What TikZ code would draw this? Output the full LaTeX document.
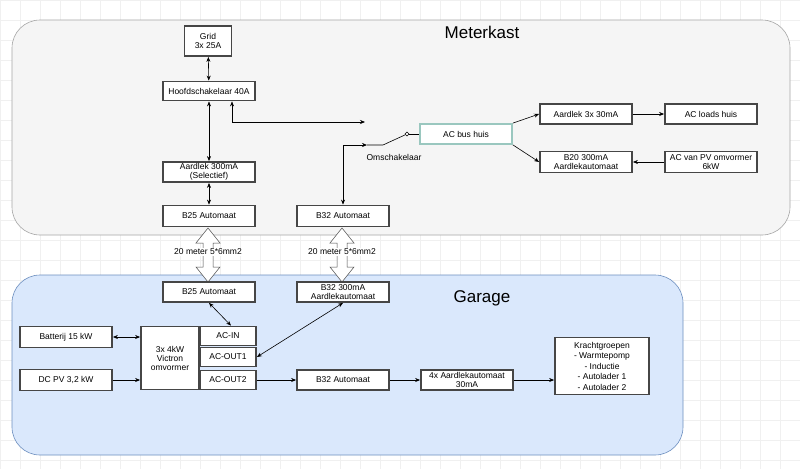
\documentclass[tikz,border=0pt]{standalone}
\usepackage{fontspec}
\setmainfont{Liberation Sans}
\usetikzlibrary{arrows.meta}
\definecolor{panelgray}{HTML}{F5F5F5}
\definecolor{panelblue}{HTML}{DAE8FC}
\definecolor{edgeblue}{HTML}{6C8EBF}
\definecolor{busteal}{HTML}{9AC7BF}
\tikzset{
        % boxes with the thick grey rim
        box/.style={draw=gray!55!black, line width=1.8pt,
                    fill=white, align=center, inner sep=1pt, font=\fontsize{8.5}{9}\selectfont},
        % panels
        panel/.style={rounded corners=28pt, line width=0.6pt},
        wire/.style={-{Stealth[length=5pt,width=4pt]}, line width=0.6pt},
        biwire/.style={{Stealth[length=5pt,width=4pt]}-{Stealth[length=5pt,width=4pt]}, line width=0.6pt},
        fat/.style={draw=black!70, fill=white, line width=0.5pt},
        lbl/.style={font=\fontsize{8.5}{9}\selectfont, inner sep=1pt}
}
\begin{document}
\begin{tikzpicture}[x=1pt, y=-1pt]
    \useasboundingbox (0,0) rectangle (800,469);
    \fill[white] (0,0) rectangle (800,469);
    \draw[gray!12, step=20pt] (0,0) grid (800,469);
    % panels
    \draw[panel, fill=panelgray, draw=gray!70] (12,20) rectangle (790,235);
    \draw[panel, fill=panelblue, draw=edgeblue] (12,275) rectangle (683,455);
    \node[font=\fontsize{17}{17}\selectfont] (meterkast) at (482,32) {Meterkast};
    \node[font=\fontsize{17}{17}\selectfont] (garage) at (482,298) {Garage};

    % fat cable arrows
    \foreach \cx in {208,342} {
        \draw[fat] (\cx,228) -- (\cx+12,243) -- (\cx+5,243) -- (\cx+5,267) -- (\cx+12,267)
            -- (\cx,282) -- (\cx-12,267) -- (\cx-5,267) -- (\cx-5,243) -- (\cx-12,243) -- cycle;
        \node[lbl, fill=white] at (\cx,252) {20 meter 5*6mm2};
    }

    % Meterkast
    \node[box, minimum width=47pt, minimum height=30pt] (grid) at (208,41) {Grid\\3x 25A};
    \node[box, minimum width=92pt, minimum height=19pt] (hoofd) at (209,91) {Hoofdschakelaar 40A};
    \node[box, minimum width=92pt, minimum height=20pt] (aardlek) at (209,172) {Aardlek 300mA\\(Selectief)};
    \node[box, minimum width=92pt, minimum height=21pt] (b25top) at (209,216) {B25 Automaat};
    \node[box, minimum width=92pt, minimum height=21pt] (b32top) at (343,216) {B32 Automaat};
    \node[box, draw=busteal, minimum width=92pt, minimum height=20pt] (bus) at (466,134) {AC bus huis};
    \node[box, minimum width=92pt, minimum height=20pt] (aard30) at (586,114) {Aardlek 3x 30mA};
    \node[box, minimum width=92pt, minimum height=20pt] (loads) at (711,114) {AC loads huis};
    \node[box, minimum width=92pt, minimum height=21pt] (b20) at (586,162) {B20 300mA\\Aardlekautomaat};
    \node[box, minimum width=92pt, minimum height=21pt] (pvomv) at (711,162) {AC van PV omvormer\\6kW};

    % omschakelaar
    \coordinate (swa) at (365,122);
    \coordinate (swb) at (367,145);
    \coordinate (swp) at (383,145);
    \node[circle, draw, fill=white, inner sep=1.4pt] (swc) at (407,134) {};
    \node[lbl] (oms) at (394,157) {Omschakelaar};

    \draw[biwire] (grid) -- (hoofd);
    \draw[biwire] (hoofd) -- (aardlek);
    \draw[biwire] (aardlek) -- (b25top);
    \draw[biwire] ([xshift=23pt]hoofd.south) |- (swa);
    \draw[biwire] (b32top.north) |- (swb);
    \draw[line width=0.6pt] (swb) -- (swp) -- (swc);
    \draw[line width=0.6pt] (swc) -- (bus);
    \draw[wire] (bus.north east) -- (aard30.west);
    \draw[wire] (bus.south east) -- (b20.west);
    \draw[wire] (aard30) -- (loads);
    \draw[wire] (pvomv) -- (b20);

    % Garage
    \node[box, minimum width=92pt, minimum height=20pt] (b25) at (209,292) {B25 Automaat};
    \node[box, minimum width=92pt, minimum height=20pt] (b32aard) at (343,292) {B32 300mA\\Aardlekautomaat};
    \node[box, minimum width=92pt, minimum height=21pt] (batt) at (66,337) {Batterij 15 kW};
    \node[box, minimum width=92pt, minimum height=21pt] (dcpv) at (66,380) {DC PV 3,2 kW};
    \node[box, minimum width=58pt, minimum height=63pt] (victron) at (170,358) {3x 4kW\\Victron\\omvormer};
    \node[box, minimum width=56pt, minimum height=19pt] (acin) at (228,336) {AC-IN};
    \node[box, minimum width=56pt, minimum height=19pt] (acout1) at (228,357) {AC-OUT1};
    \node[box, minimum width=56pt, minimum height=19pt] (acout2) at (228,380) {AC-OUT2};
    \node[box, minimum width=92pt, minimum height=20pt] (b32) at (343,380) {B32 Automaat};
    \node[box, minimum width=92pt, minimum height=20pt] (aard4) at (467,380) {4x Aardlekautomaat\\30mA};
    \node[box, minimum width=94pt, minimum height=57pt, font=\fontsize{8.5}{10.5}\selectfont] (kracht) at (602,366)
        {Krachtgroepen\\- Warmtepomp\\- Inductie\\- Autolader 1\\- Autolader 2};

    \draw[biwire] (b25.south) -- ([xshift=3pt]acin.north);
    \draw[biwire] (batt) -- (victron.west |- batt);
    \draw[wire] (dcpv) -- (victron.west |- dcpv);
    \draw[biwire] (b32aard.south) -- (acout1.east);
    \draw[wire] (acout2) -- (b32);
    \draw[wire] (b32) -- (aard4);
    \draw[wire] (aard4) -- (kracht.west |- aard4);
\end{tikzpicture}
\end{document}
